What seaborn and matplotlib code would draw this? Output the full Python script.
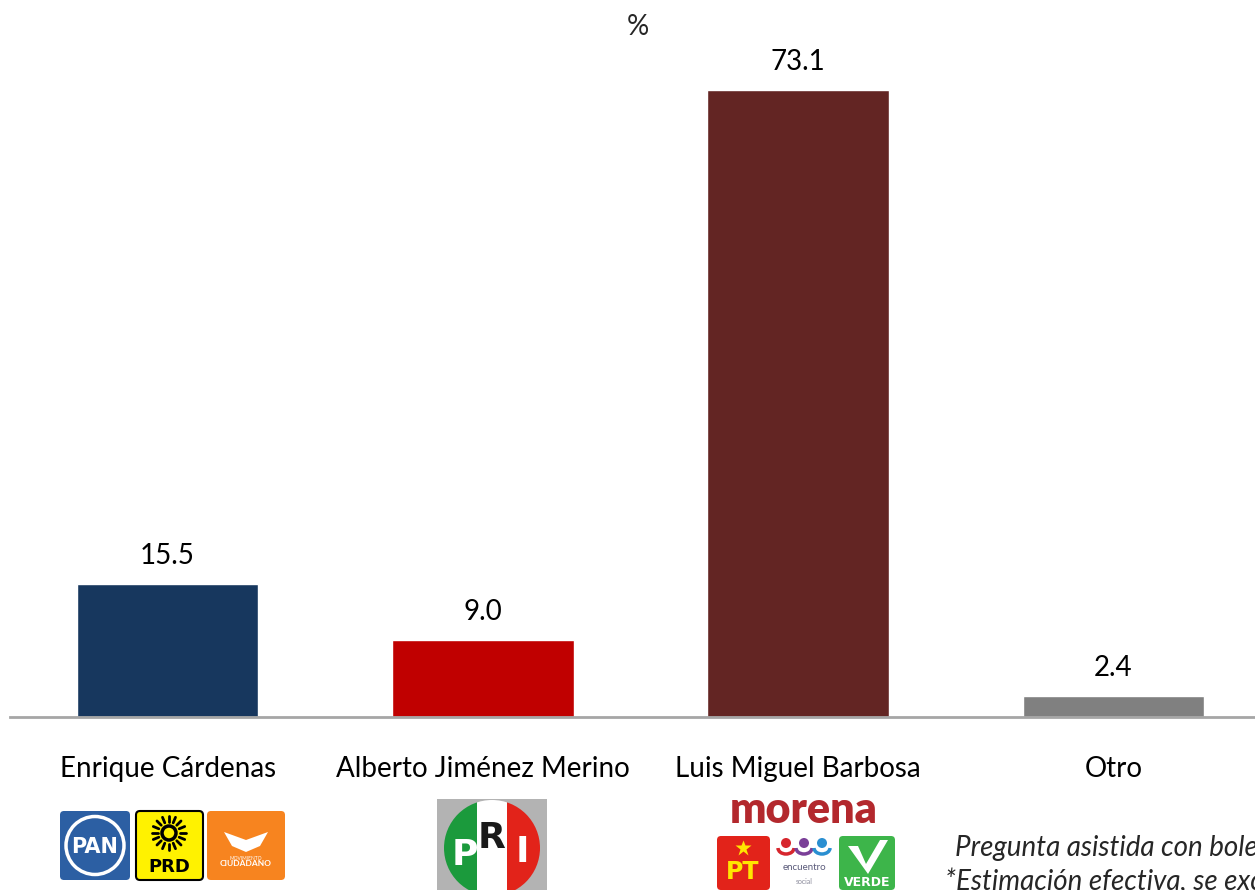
import matplotlib
matplotlib.use("Agg")
import math
import matplotlib.pyplot as plt
import matplotlib.patches as mpatches
import pandas as pd
import seaborn as sns

# datos
candidatos = ["Enrique Cárdenas", "Alberto Jiménez Merino", "Luis Miguel Barbosa", "Otro"]
porcentajes = [15.5, 9.0, 73.1, 2.4]
colores = ["#17375e", "#c00000", "#632523", "#808080"]
notas = ["Pregunta asistida con boleta", "*Estimación efectiva, se excluye no respuesta"]

sns.set_theme(style="white")
plt.rcParams["font.family"] = ["Lato", "DejaVu Sans"]

df = pd.DataFrame({"candidato": candidatos, "pct": porcentajes})

W, H = 1255, 890
fig = plt.figure(figsize=(W / 100, H / 100), dpi=100)
ax = fig.add_axes([10 / W, 173 / H, 1261 / W, 686 / H])
sns.barplot(data=df, x="candidato", y="pct", hue="candidato", palette=colores,
            saturation=1, width=0.575, legend=False, ax=ax)
ax.set_xlim(-0.5, 3.5)
ax.set_ylim(0, 80)
for c in ax.containers:
    ax.bar_label(c, fmt="%.1f", padding=11, fontsize=20, color="black")

for s in ["top", "left", "right"]:
    ax.spines[s].set_visible(False)
ax.spines["bottom"].set_color("#a6a6a6")
ax.spines["bottom"].set_linewidth(2)
ax.set_yticks([])
ax.set_xlabel("")
ax.set_ylabel("")
ax.tick_params(axis="x", length=0, pad=28, labelsize=20, labelcolor="black")

fig.text(638 / W, 1 - 27 / H, "%", ha="center", va="center", fontsize=20)

# logos aproximados (capa en pixeles)
lax = fig.add_axes([0, 0, 1, 1])
lax.set_xlim(0, W)
lax.set_ylim(H, 0)
lax.axis("off")
lax.patch.set_visible(False)

def caja(x, y, w, h, fc, ec="none", lw=0):
    p = mpatches.FancyBboxPatch((x, y), w, h, boxstyle="round,pad=0,rounding_size=4",
                                fc=fc, ec=ec, lw=lw)
    lax.add_patch(p)

# PAN
caja(60, 811, 70, 69, "#2c5fa3")
lax.add_patch(mpatches.Circle((95, 845.5), 29, fc="none", ec="white", lw=2.5))
lax.text(95, 847, "PAN", color="white", fontsize=15, fontweight="bold",
         ha="center", va="center", family="DejaVu Sans Condensed")
# PRD
caja(136, 811, 67, 69, "#fff200", ec="black", lw=1.5)
lax.add_patch(mpatches.Circle((169, 833), 7, fc="none", ec="black", lw=2.5))
for k in range(16):
    a = 2 * math.pi * k / 16
    lax.plot([169 + 11 * math.cos(a), 169 + 17 * math.cos(a)],
             [833 + 11 * math.sin(a), 833 + 17 * math.sin(a)], color="black", lw=2)
lax.text(169, 867, "PRD", color="black", fontsize=13, fontweight="bold",
         ha="center", va="center", family="DejaVu Sans Condensed")
# Movimiento Ciudadano
caja(207, 811, 78, 69, "#f7841f")
lax.add_patch(mpatches.Polygon([[224, 832], [246, 840], [268, 832], [260, 846],
                                [246, 852], [232, 846]], fc="white", ec="none"))
lax.text(246, 858, "MOVIMIENTO", color="white", fontsize=3.5, ha="center", va="center")
lax.text(246, 864, "CIUDADANO", color="white", fontsize=6, fontweight="bold",
         ha="center", va="center")
# PRI
lax.add_patch(mpatches.Rectangle((437, 799), 110, 91, fc="#b3b3b3", ec="none"))
circ = mpatches.Circle((492, 848), 48, fc="none", ec="none")
lax.add_patch(circ)
for x0, w0, col in [(440, 37, "#1b9a3c"), (477, 30, "white"), (507, 40, "#e2231a")]:
    r = mpatches.Rectangle((x0, 798), w0, 95, fc=col, ec="none")
    lax.add_patch(r)
    r.set_clip_path(circ)
lax.text(465, 855, "P", color="white", fontsize=26, fontweight="bold", ha="center", va="center",
         family="DejaVu Sans Condensed")
lax.text(492, 838, "R", color="#1a1a1a", fontsize=26, fontweight="bold", ha="center", va="center",
         family="DejaVu Sans Condensed")
lax.text(522, 852, "I", color="white", fontsize=26, fontweight="bold", ha="center", va="center",
         family="DejaVu Sans Condensed")
# morena
lax.text(804, 810, "morena", color="#b3282d", fontsize=31, fontweight="heavy",
         ha="center", va="center")
# PT
caja(717, 836, 53, 54, "#e2231a")
lax.plot([743], [848], marker="*", ms=12, color="#ffe600", mec="none")
lax.text(743, 872, "PT", color="#ffe600", fontsize=17, fontweight="bold",
         ha="center", va="center", family="DejaVu Sans Condensed")
# encuentro social
for cx, col in [(786, "#d7262d"), (804, "#7a3f98"), (822, "#2a8fd1")]:
    lax.add_patch(mpatches.Circle((cx, 843), 5, fc=col, ec="none"))
    lax.add_patch(mpatches.Arc((cx, 848), 16, 12, theta1=0, theta2=180, color=col, lw=2.5))
lax.text(804, 868, "encuentro", color="#5a5a7a", fontsize=7, ha="center", va="center")
lax.text(804, 882, "social", color="#8a8a9a", fontsize=5, ha="center", va="center")
# VERDE
caja(839, 836, 56, 54, "#3db54a")
lax.add_patch(mpatches.Polygon([[848, 846], [858, 846], [866, 864], [880, 840],
                                [888, 840], [868, 874]], fc="white", ec="none"))
lax.text(867, 883, "VERDE", color="white", fontsize=9, fontweight="bold",
         ha="center", va="center", family="DejaVu Sans Condensed")

# notas (cortadas por el borde, como en el original)
fig.text(955 / W, 1 - 848 / H, notas[0], fontsize=20, style="italic",
         ha="left", va="center")
fig.text(945 / W, 1 - 881 / H, notas[1], fontsize=20, style="italic",
         ha="left", va="center")

fig.savefig("out.png", dpi=100)
